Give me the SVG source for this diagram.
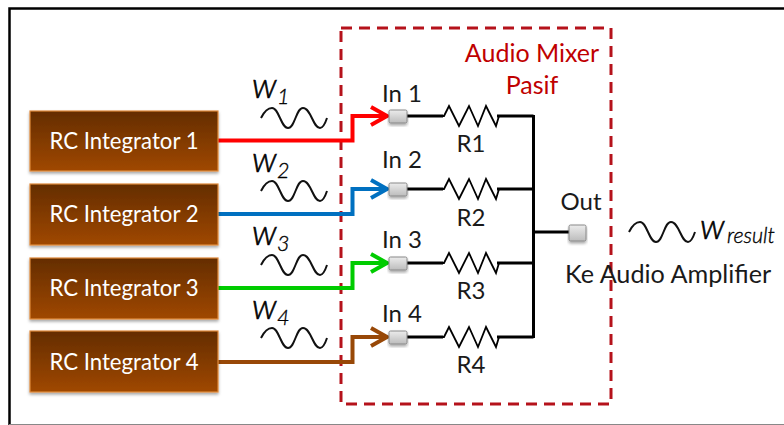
<svg xmlns="http://www.w3.org/2000/svg" width="784" height="425" viewBox="0 0 784 425">
<defs>
<linearGradient id="box" x1="0" y1="0" x2="0" y2="1"><stop offset="0" stop-color="#642d00"/><stop offset="1" stop-color="#a04800"/></linearGradient>
<linearGradient id="port" x1="0" y1="0" x2="0" y2="1"><stop offset="0" stop-color="#ececec"/><stop offset="1" stop-color="#bcbcbc"/></linearGradient>
<filter id="sh" x="-10%" y="-20%" width="120%" height="150%"><feDropShadow dx="0" dy="2" stdDeviation="1.5" flood-color="#000" flood-opacity="0.35"/></filter>
<path id="wave" d="M0 0C3-6 7-10 11-10C18-10 20 10 27 10C34 10 35-10 42-10C50-10 52 10 59 10C62 10 64 6 66 0" fill="none" stroke="#111" stroke-width="2"/>
<path id="res" d="M0 0H3L8-10L18 10L28-10L37 10L45-10L55 10L58 0" fill="none" stroke="#000" stroke-width="1.800"/>
</defs>
<style>
text{font-family:Lato,"Open Sans","Liberation Sans",sans-serif;fill:#1a1a1a;font-size:24px}
.b{fill:url(#box);stroke:#e08a3c;stroke-width:1.2;filter:url(#sh)}
.bt{fill:#fff;font-size:22.200px;text-anchor:middle}
.p{fill:url(#port);stroke:#888;stroke-width:1;filter:url(#sh)}
.c{fill:none;stroke-width:4}
.w{fill:none;stroke:#000;stroke-width:3}
.m{text-anchor:middle}
.i{font-style:italic}
.big{font-size:35px;font-weight:300;fill:#000;stroke:#000;stroke-width:.6px}
.sub{font-size:21.500px;font-weight:300;fill:#000;stroke:#000;stroke-width:.35px}
.r{fill:#c00000;font-size:25px;text-anchor:middle}
.ke{font-size:25.200px}
</style>
<rect x="0" y="0" width="784" height="425" fill="#fff"/>
<path id="frame" d="M9.500 425V8.500H784" fill="none" stroke="#000" stroke-width="2.500"/>
<path id="frame-bottom" d="M9 424.500H784" fill="none" stroke="#888" stroke-width="1"/>
<rect id="mixer" x="341" y="28" width="270" height="376" fill="none" stroke="#b5121b" stroke-width="3" stroke-dasharray="11 7"/>
<text class="r" x="532" y="62">Audio Mixer</text>
<text class="r" x="532" y="94">Pasif</text>
<g id="connectors">
<path class="c" stroke="#ff0000" d="M218 140.500H352.500V116H386M371 107L387 116L371 125"/>
<path class="c" stroke="#0070c0" d="M218 214H352.500V189H386M371 180L387 189L371 198"/>
<path class="c" stroke="#00cc00" d="M218 288H352.500V263H386M371 254L387 263L371 272"/>
<path class="c" stroke="#984807" d="M218 362H352.500V337H386M371 328L387 337L371 346"/>
<path class="w" d="M406 116H443M497 116H533.500M406 189H443M497 189H533.500M406 263H443M497 263H533.500M406 337H443M497 337H533.500M533.500 115V338M533.500 232H569"/>
</g>
<g id="n1"><rect class="b" x="30" y="111" width="188" height="60"/><text class="bt" x="124" y="149">RC Integrator 1</text></g>
<g id="n2"><rect class="b" x="30" y="184" width="188" height="61"/><text class="bt" x="124" y="222">RC Integrator 2</text></g>
<g id="n3"><rect class="b" x="30" y="258" width="188" height="61"/><text class="bt" x="124" y="296">RC Integrator 3</text></g>
<g id="n4"><rect class="b" x="30" y="331" width="188" height="61"/><text class="bt" x="124" y="370">RC Integrator 4</text></g>
<g id="w1"><text class="i big" x="252" y="98">w</text><text class="i sub" x="277" y="104">1</text><use href="#wave" x="261" y="118"/></g>
<g id="w2"><text class="i big" x="252" y="172">w</text><text class="i sub" x="277" y="178">2</text><use href="#wave" x="261" y="191"/></g>
<g id="w3"><text class="i big" x="252" y="245">w</text><text class="i sub" x="277" y="251">3</text><use href="#wave" x="261" y="265"/></g>
<g id="w4"><text class="i big" x="252" y="319">w</text><text class="i sub" x="277" y="325">4</text><use href="#wave" x="261" y="338"/></g>
<g id="in1"><rect class="p" x="389" y="110" width="18" height="13" rx="1.500"/><text x="382" y="102">In 1</text></g>
<g id="in2"><rect class="p" x="389" y="183" width="18" height="13" rx="1.500"/><text x="382" y="168">In 2</text></g>
<g id="in3"><rect class="p" x="389" y="257" width="18" height="13" rx="1.500"/><text x="382" y="248">In 3</text></g>
<g id="in4"><rect class="p" x="389" y="331" width="18" height="13" rx="1.500"/><text x="382" y="322">In 4</text></g>
<g id="r1"><use href="#res" x="441" y="116"/><text class="m" x="471" y="152">R1</text></g>
<g id="r2"><use href="#res" x="441" y="189"/><text class="m" x="471" y="226">R2</text></g>
<g id="r3"><use href="#res" x="441" y="263"/><text class="m" x="471" y="299">R3</text></g>
<g id="r4"><use href="#res" x="441" y="337"/><text class="m" x="471" y="373">R4</text></g>
<g id="out"><rect class="p" x="569" y="225" width="17" height="16" rx="1.500"/><text class="m" x="581" y="210">Out</text></g>
<g id="wresult"><use href="#wave" x="629" y="232"/><text class="i big" x="700" y="239">w</text><text class="i sub" x="727" y="243">result</text></g>
<text class="ke" x="565" y="283">Ke Audio Amplifier</text>
</svg>
